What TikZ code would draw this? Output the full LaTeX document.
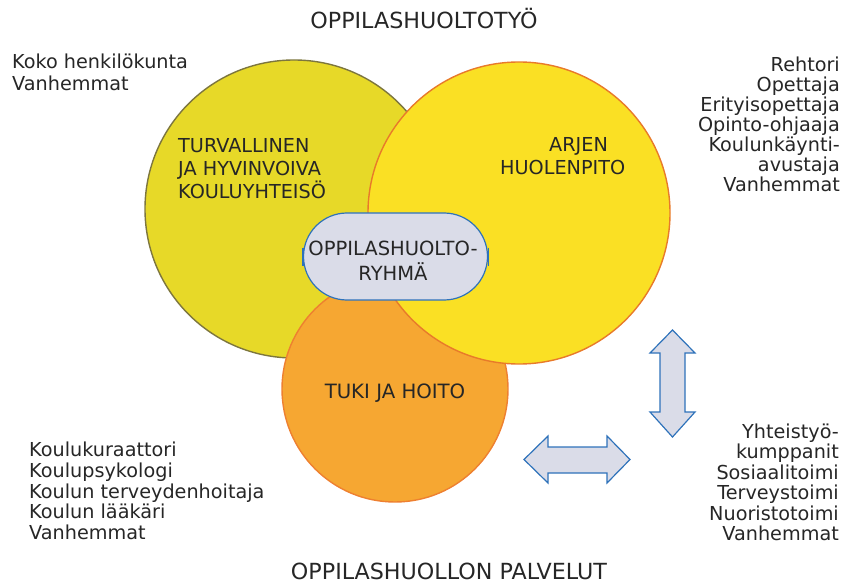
\documentclass[tikz,border=0pt]{standalone}
\usepackage{fontspec}
\setmainfont{DejaVu Sans}
\definecolor{leftfill}{RGB}{231,217,40}
\definecolor{leftline}{RGB}{125,118,62}
\definecolor{rightfill}{RGB}{250,224,36}
\definecolor{rightline}{RGB}{232,122,42}
\definecolor{orangefill}{RGB}{246,167,50}
\definecolor{orangeline}{RGB}{238,128,48}
\definecolor{grpfill}{RGB}{218,220,232}
\definecolor{blueline}{RGB}{46,114,186}
\definecolor{txt}{RGB}{38,38,38}
\tikzset{
  circ/.style={circle, inner sep=0pt, line width=1.4bp},
  grpbox/.style={draw=blueline, fill=grpfill, line width=1.2bp, rounded corners=43.5bp,
    minimum width=184bp, minimum height=87bp, inner sep=0pt},
  lst/.style={text=txt, inner sep=0pt, font=\fontsize{19.3}{21}\selectfont},
  big/.style={text=txt, inner sep=0pt, font=\fontsize{22.3}{26}\selectfont},
  dblarrow/.style={draw=blueline, fill=grpfill, line width=1.2bp, line join=miter},
  tickline/.style={draw=blueline, line width=1.2bp}
}
\begin{document}
\begin{tikzpicture}[x=1bp,y=-1bp]
\useasboundingbox (0,0) rectangle (845,584);
% circles
\node[circ, fill=leftfill, draw=leftline, minimum size=298bp] (c1) at (294,209) {};
\node[circ, fill=orangefill, draw=orangeline, minimum size=226bp] (c3) at (395,389) {};
\node[circ, fill=rightfill, draw=rightline, minimum size=302bp] (c2) at (519,213) {};
% group
\node[grpbox] (grp) at (395.5,256.5) {};
\draw[tickline] (grp.west) ++(0,-9) -- ++(0,18);
\draw[tickline] (grp.east) ++(0,-9) -- ++(0,18);
\node[lst, font=\fontsize{19.6}{25}\selectfont, anchor=north, align=center] (grptext) at (393,240.5) {OPPILASHUOLTO-\\RYHMÄ};
% circle labels
\node[lst, font=\fontsize{19.3}{23}\selectfont, anchor=north west, align=left] (l1) at (178,138) {TURVALLINEN\\JA HYVINVOIVA\\KOULUYHTEISÖ};
\node[lst, anchor=base west] (l2a) at (549,152) {ARJEN};
\node[lst, anchor=base west] (l2b) at (500,175) {HUOLENPITO};
\node[lst, font=\fontsize{19.8}{23}\selectfont, anchor=base] (l3) at (395,398) {TUKI JA HOITO};
% titles
\node[big, anchor=base] (title) at (424,28.5) {OPPILASHUOLTOTYÖ};
\node[big, anchor=base] (bottom) at (449,579.5) {OPPILASHUOLLON PALVELUT};
% lists
\node[lst, font=\fontsize{19.3}{21.7}\selectfont, anchor=north west, align=left] (k1) at (12,53.6) {Koko henkilökunta\\Vanhemmat};
\node[lst, font=\fontsize{19.3}{20.2}\selectfont, anchor=north east, align=right] (k2) at (840,56.3) {Rehtori\\Opettaja\\Erityisopettaja\\Opinto-ohjaaja\\Koulunkäynti-\\avustaja\\Vanhemmat};
\node[lst, font=\fontsize{19.3}{20.8}\selectfont, anchor=north west, align=left] (k3) at (29,442) {Koulukuraattori\\Koulupsykologi\\Koulun terveydenhoitaja\\Koulun lääkäri\\Vanhemmat};
\node[lst, font=\fontsize{19.3}{20.6}\selectfont, anchor=north east, align=right] (k4) at (839,423.3) {Yhteistyö-\\kumppanit\\Sosiaalitoimi\\Terveystoimi\\Nuoristotoimi\\Vanhemmat};
% double arrows
\draw[dblarrow] (672.5,330) -- (695,353) -- (685,353) -- (685,412) -- (695,412) -- (672.5,437) -- (650,412) -- (660,412) -- (660,353) -- (650,353) -- cycle;
\draw[dblarrow] (524,459.5) -- (548,436) -- (548,447) -- (607,447) -- (607,436) -- (630,459.5) -- (607,483) -- (607,473) -- (548,473) -- (548,483) -- cycle;
\end{tikzpicture}
\end{document}
